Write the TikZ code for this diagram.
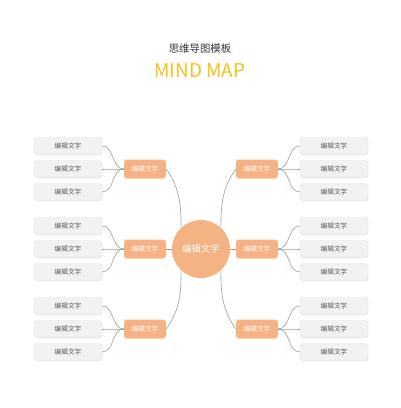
\documentclass[tikz,border=0pt]{standalone}
\usepackage{fontspec}
\setmainfont{Noto Sans CJK SC}
\usepackage{xcolor}
\usepackage{tikz}
\usetikzlibrary{shadows}

\definecolor{peach}{HTML}{F5B383}
\definecolor{mapgold}{HTML}{F7C21B}
\definecolor{leafgray}{HTML}{F2F2F2}
\definecolor{leafedge}{HTML}{DEDEDE}
\definecolor{wire}{HTML}{9A9A9A}

\begin{document}
\begin{tikzpicture}[x=1pt, y=1pt,
    hub/.style={circle, fill=peach, minimum size=58pt, inner sep=0pt, text=white, font=\fontsize{9.3}{11}\selectfont},
    branch/.style={rounded corners=3pt, fill=peach, minimum width=42pt, minimum height=19pt, inner sep=0pt, text=white, font=\fontsize{6.7}{8}\selectfont},
    leaf/.style={draw=leafedge, rounded corners=3pt, fill=leafgray, minimum width=68pt, minimum height=17pt, inner sep=0pt, text=black!65, font=\fontsize{6.7}{8}\selectfont,
        drop shadow={opacity=0.12, shadow xshift=0.4pt, shadow yshift=-0.8pt}},
    link/.style={draw=wire, line width=0.6pt}
]
\useasboundingbox (0,0) rectangle (400,-408);

\node[font=\fontsize{10.4}{12}\selectfont, text=black!80] (title) at (200,-49) {思维导图模板};
\node[font=\fontsize{19}{21}\selectfont, text=mapgold] (subtitle) at (200,-71) {MIND MAP};

\node[hub] (hub) at (201,-249) {编辑文字};

% branches, left and right
\foreach \i/\y in {1/169, 2/249, 3/329} {
  \node[branch] (bl\i) at (145,-\y) {编辑文字};
  \node[branch] (br\i) at (257,-\y) {编辑文字};
  \foreach \k/\d in {1/-23, 2/0, 3/23} {
    \node[leaf] (ll\i\k) at (68,-\y-\d) {编辑文字};
    \node[leaf] (lr\i\k) at (334,-\y-\d) {编辑文字};
    \draw[link] (ll\i\k.east) to[out=0, in=180] (bl\i.west);
    \draw[link] (lr\i\k.west) to[out=180, in=0] (br\i.east);
  }
}

\draw[link] (bl1.east) to[out=-55, in=90] (hub.133);
\draw[link] (br1.west) to[out=-125, in=90] (hub.47);
\draw[link] (bl2.east) -- (hub.west);
\draw[link] (br2.west) -- (hub.east);
\draw[link] (bl3.east) to[out=55, in=-90] (hub.227);
\draw[link] (br3.west) to[out=125, in=-90] (hub.313);

\end{tikzpicture}
\end{document}
